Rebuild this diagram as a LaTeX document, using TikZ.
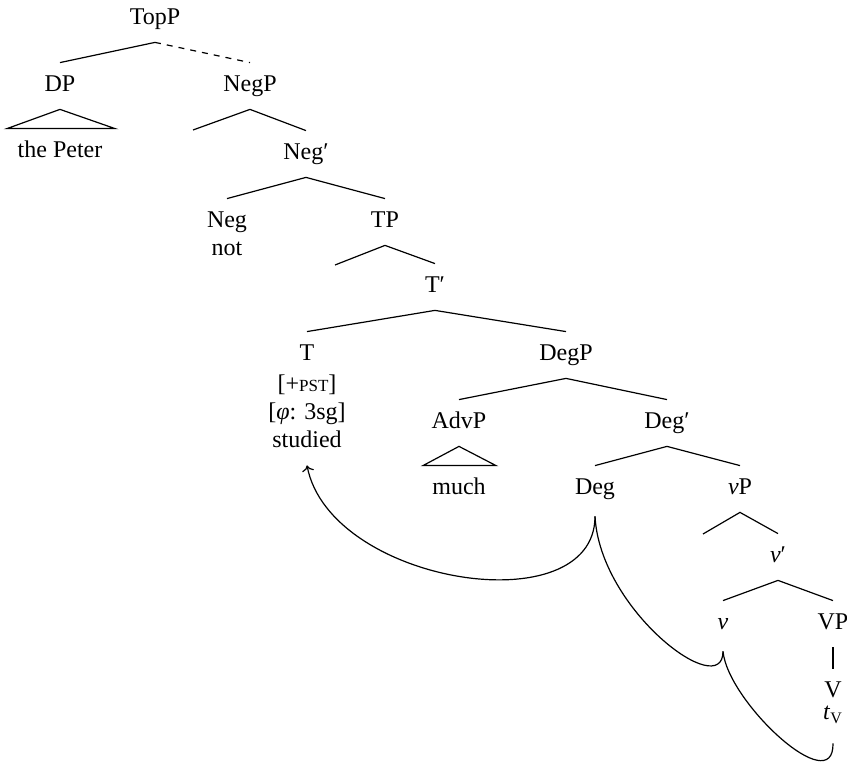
\documentclass[tikz,border=0pt]{standalone}
\usepackage{fontspec}
\setmainfont{Liberation Serif}
\usetikzlibrary{calc,arrows.meta}
\begin{document}
\begin{tikzpicture}[x=0.5pt,y=-0.5pt,
  lbl/.style={anchor=base,inner xsep=0pt,inner ysep=5.5pt,text height=9pt,text depth=3pt,font=\fontsize{12pt}{14.5pt}\selectfont},
  br/.style={line width=0.6pt},
  mv/.style={line width=0.6pt}]
\useasboundingbox (0,0) rectangle (847,763);
% nodes
\node[lbl] (topp) at (155,25) {TopP};
\node[lbl] (dp) at (60,92) {DP};
\node[lbl] (negp) at (250,92) {NegP};
\node[lbl] (peter) at (60,158) {the Peter};
\node[lbl] (negbar) at (306,160) {Neg′};
\node[lbl] (neg) at (227,228) {Neg};
\node[lbl] (tp) at (385,228) {TP};
\node[lbl] (nott) at (227,256) {not};
\node[lbl] (tbar) at (435,293) {T′};
\node[lbl] (t) at (307,361) {T};
\node[lbl] (degp) at (566,361) {DegP};
\node[lbl] (pst) at (307,392) {[+{\fontsize{8.5pt}{10pt}\selectfont PST}]};
\node[lbl] (phi) at (307,420) {[\textit{φ}: 3sg]};
\node[lbl] (studied) at (307,448) {studied};
\node[lbl] (advp) at (459,429) {AdvP};
\node[lbl] (degbar) at (667,429) {Deg′};
\node[lbl] (much) at (459,495) {much};
\node[lbl] (deg) at (595,495) {Deg};
\node[lbl] (vp) at (740,495) {\textit{v}P};
\node[lbl] (vbar) at (778,563) {\textit{v}′};
\node[lbl] (v) at (723,630) {\textit{v}};
\node[lbl] (vpp) at (833,630) {VP};
\node[lbl] (V) at (833,698) {V};
\node[lbl] (tv) at (833,720) {\textit{t}\textsubscript{V}};
% free ends
\coordinate (negspec) at (193,130);
\coordinate (tpspec) at (335,265);
\coordinate (vpspec) at (703,534);
% branches
\draw[br] (topp.south) -- (dp.north);
\draw[br,dash pattern=on 3pt off 3pt] (topp.south) -- (negp.north);
\draw[br] (dp.south) -- ($(peter.north)+(-53,0)$) -- ($(peter.north)+(55,0)$) -- cycle;
\draw[br] (negspec) -- (negp.south) -- (negbar.north);
\draw[br] (neg.north) -- (negbar.south) -- (tp.north);
\draw[br] (tpspec) -- (tp.south) -- (tbar.north);
\draw[br] (t.north) -- (tbar.south) -- (degp.north);
\draw[br] (advp.north) -- (degp.south) -- (degbar.north);
\draw[br] (advp.south) -- ($(much.north)+(-36,0)$) -- ($(much.north)+(37,0)$) -- cycle;
\draw[br] (deg.north) -- (degbar.south) -- (vp.north);
\draw[br] (vpspec) -- (vp.south) -- (vbar.north);
\draw[br] (v.north) -- (vbar.south) -- (vpp.north);
\draw[br] (vpp.south) -- (V.north);
% movement
\coordinate (degb) at ($(deg.south)+(0,4)$);
\coordinate (vb) at ($(v.south)+(0,4)$);
\coordinate (tvb) at ($(tv.south)+(0,6)$);
\draw[mv,-{To[length=3pt,width=6pt]}] (degb) .. controls ($(degb)+(0,109)$) and ($(studied.south)+(23,119)$) .. (studied.south);
\draw[mv] (degb) .. controls ($(degb)+(5,94)$) and ($(vb)+(0,51)$) .. (vb);
\draw[mv] (vb) .. controls ($(vb)+(5,51)$) and ($(tvb)+(1,57)$) .. (tvb);
\end{tikzpicture}
\end{document}
